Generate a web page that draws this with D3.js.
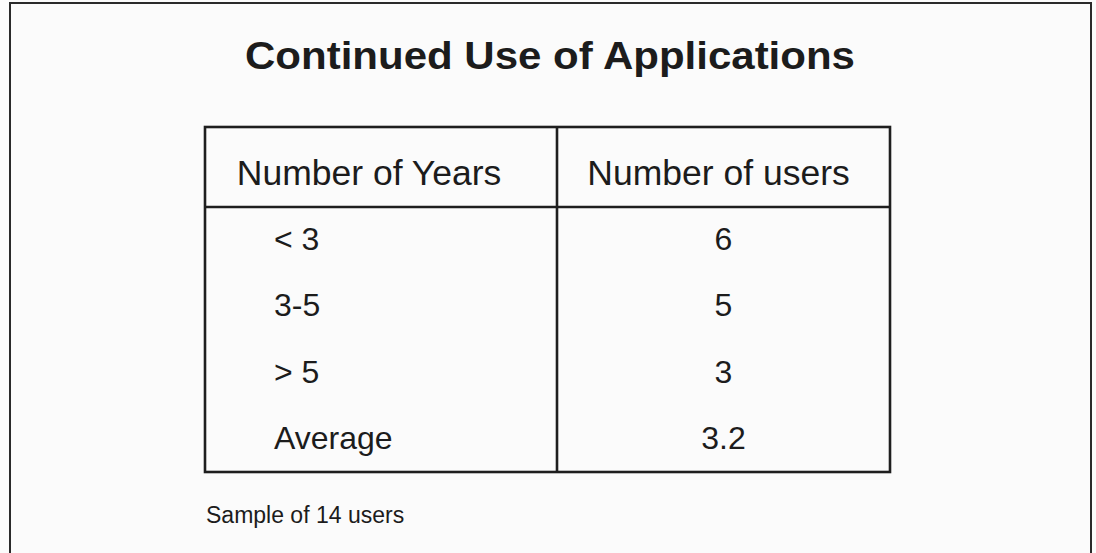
<!DOCTYPE html>
<html>
<head>
<meta charset="utf-8">
<script src="https://cdn.jsdelivr.net/npm/d3@7"></script>
<style>
  html, body { margin: 0; padding: 0; background: #fbfbfb; }
  svg { display: block; }
  text { font-family: "Liberation Sans", Arial, Helvetica, sans-serif; fill: #1c1c1c; }
</style>
</head>
<body>
<svg id="chart" width="1096" height="553"></svg>
<script>
// ---- data ----
const title = "Continued Use of Applications";
const headers = ["Number of Years", "Number of users"];
const yearCategories = ["< 3", "3-5", "> 5", "Average"];
const userCounts = ["6", "5", "3", "3.2"];
const footnote = "Sample of 14 users";

// ---- layout ----
const W = 1096, H = 553;
const svg = d3.select("#chart");
svg.append("rect").attr("width", W).attr("height", H).attr("fill", "#fbfbfb");

// outer frame (bottom edge falls off the picture)
svg.append("path")
  .attr("d", `M10,${H + 5} L10,3 L1091,3 L1091,${H + 5}`)
  .attr("fill", "none").attr("stroke", "#2a2a2a").attr("stroke-width", 2);

// title
svg.append("text")
  .attr("x", 550).attr("y", 69)
  .attr("text-anchor", "middle")
  .attr("font-weight", "bold")
  .attr("font-size", 38)
  .attr("textLength", 610).attr("lengthAdjust", "spacingAndGlyphs")
  .text(title);

// table geometry
const tLeft = 205, tRight = 890, tTop = 127, headBottom = 207, tBottom = 472, divX = 557;

const x = d3.scaleOrdinal().domain(headers).range([tLeft, divX]);
const colRight = d3.scaleOrdinal().domain(headers).range([divX, tRight]);
const y = d3.scaleBand().domain(yearCategories).range([headBottom, tBottom]);

const g = svg.append("g");
const lineColor = "#1e1e1e";
// outer table box
g.append("rect")
  .attr("x", tLeft).attr("y", tTop)
  .attr("width", tRight - tLeft).attr("height", tBottom - tTop)
  .attr("fill", "none").attr("stroke", lineColor).attr("stroke-width", 2.6);
// header separator
g.append("line")
  .attr("x1", tLeft).attr("x2", tRight).attr("y1", headBottom).attr("y2", headBottom)
  .attr("stroke", lineColor).attr("stroke-width", 2.6);
// column divider
g.append("line")
  .attr("x1", divX).attr("x2", divX).attr("y1", tTop).attr("y2", tBottom)
  .attr("stroke", lineColor).attr("stroke-width", 2.6);

// headers
g.selectAll("text.header").data(headers).join("text")
  .attr("class", "header")
  .attr("x", d => (x(d) + colRight(d)) / 2 + (d === headers[0] ? -12 : -5))
  .attr("y", 185)
  .attr("text-anchor", "middle")
  .attr("font-size", 35.5)
  .text(d => d);

// row labels
g.selectAll("text.label").data(yearCategories).join("text")
  .attr("class", "label")
  .attr("x", tLeft + 69)
  .attr("y", d => y(d) + y.bandwidth() * 0.65)
  .attr("font-size", 32)
  .text(d => d);

// values
g.selectAll("text.value").data(userCounts).join("text")
  .attr("class", "value")
  .attr("x", (divX + tRight) / 2)
  .attr("y", (d, i) => y(yearCategories[i]) + y.bandwidth() * 0.65)
  .attr("text-anchor", "middle")
  .attr("font-size", 32)
  .text(d => d);

// footnote
svg.append("text")
  .attr("x", 206).attr("y", 523)
  .attr("font-size", 23)
  .text(footnote);
</script>
</body>
</html>
